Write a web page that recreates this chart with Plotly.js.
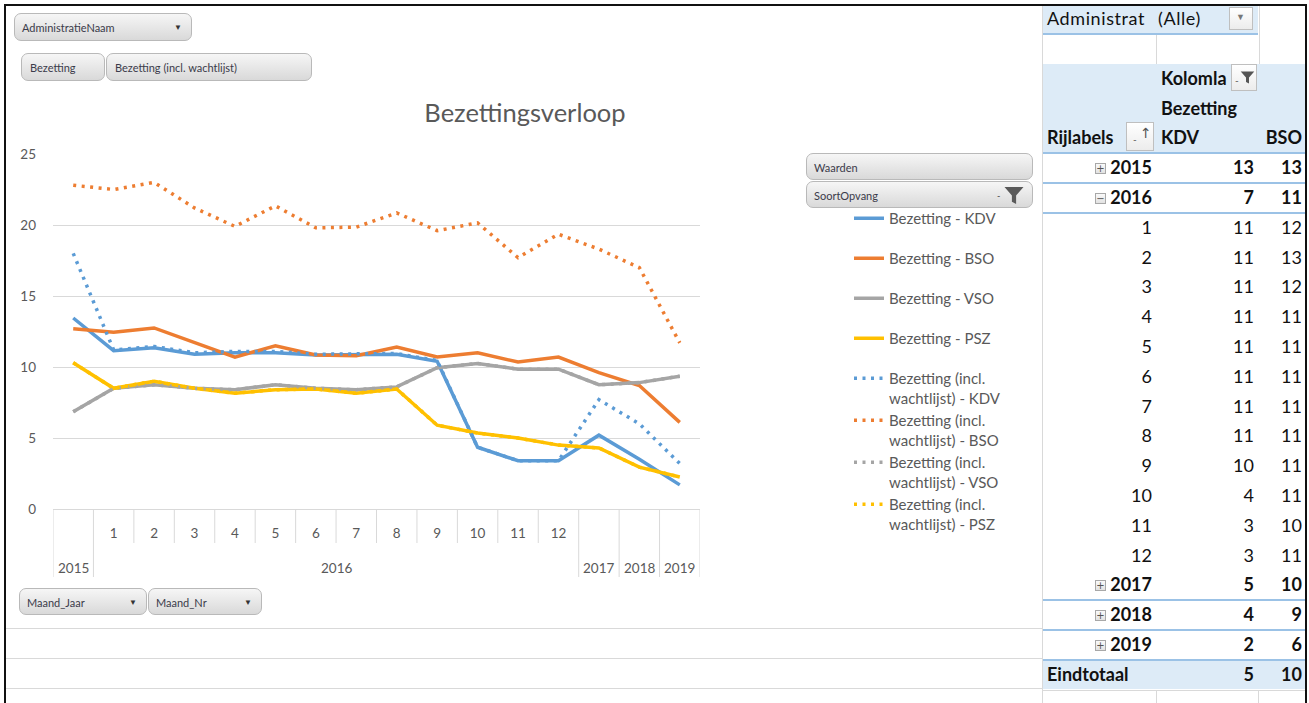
<!DOCTYPE html>
<html>
<head>
<meta charset="utf-8">
<script src="https://cdn.plot.ly/plotly-3.0.1.min.js"></script>
<style>
  body { margin:0; background:#fff; }
  #root { position:relative; width:1309px; height:703px; background:#fff; overflow:hidden; font-family: Lato, "Open Sans", sans-serif; }
  #chart { position:absolute; left:0; top:0; width:1040px; height:625px; }
  .abs { position:absolute; }
  .btn { position:absolute; box-sizing:border-box; border:1px solid #b9b9b9; border-radius:7px;
         background:linear-gradient(#f6f6f6,#d9d9d9); font-family:Lato, sans-serif; font-size:11px;
         color:#3b3b4a; white-space:nowrap; overflow:hidden; }
  .btn span.t { position:absolute; top:50%; transform:translateY(-50%); }
  .btn span.a { position:absolute; top:50%; transform:translateY(-50%); font-size:8px; color:#333; }
  .cell { position:absolute; font-family:Lato, sans-serif; font-size:18px; color:#111; white-space:nowrap; line-height:29.8px; }
  .b { font-weight:bold; }
  .hl { position:absolute; height:2px; background:#9BC2E6; }
  .gl { position:absolute; background:#d9d9d9; }
  .pm { position:absolute; width:9px; height:9px; border:1px solid #a8a8a8; background:linear-gradient(#fafafa,#e2e2e2);
        font-size:10px; line-height:9px; text-align:center; color:#555; font-family:"DejaVu Sans",sans-serif; }
  .tb { position:absolute; box-sizing:border-box; border:1px solid #bfbfbf; background:linear-gradient(#ffffff,#ececec); }
</style>
</head>
<body>
<div id="root">
  <div id="chart"></div>
</div>
<script>
// ---------------- chart data ----------------
const yearLabels  = ['2015','2016','2016','2016','2016','2016','2016','2016','2016','2016','2016','2016','2016','2017','2018','2019'];
const monthLabels = ['','1','2','3','4','5','6','7','8','9','10','11','12','','',''];

const bezKDV = [13.45, 11.15, 11.35, 10.9, 11.0, 11.0, 10.85, 10.85, 10.9, 10.4, 4.35, 3.4, 3.4, 5.2, 3.5, 1.7];
const bezBSO = [12.7, 12.45, 12.75, 11.7, 10.7, 11.5, 10.85, 10.8, 11.4, 10.7, 11.0, 10.35, 10.7, 9.6, 8.7, 6.1];
const bezVSO = [6.85, 8.5, 8.75, 8.5, 8.4, 8.75, 8.5, 8.4, 8.6, 9.95, 10.25, 9.85, 9.85, 8.75, 8.9, 9.35];
const bezPSZ = [10.3, 8.5, 9.0, 8.5, 8.15, 8.4, 8.45, 8.15, 8.45, 5.9, 5.35, 5.0, 4.5, 4.3, 2.95, 2.25];

const wachtKDV = [18.0, 11.2, 11.45, 11.0, 11.1, 11.1, 10.9, 10.9, 10.95, 10.45, 4.35, 3.4, 3.4, 7.7, 6.0, 3.2];
const wachtBSO = [22.8, 22.5, 23.0, 21.2, 19.9, 21.35, 19.8, 19.85, 20.85, 19.6, 20.15, 17.7, 19.35, 18.3, 17.0, 11.7];
const wachtVSO = [6.85, 8.5, 8.75, 8.5, 8.4, 8.75, 8.5, 8.4, 8.6, 9.95, 10.25, 9.85, 9.85, 8.75, 8.9, 9.35];
const wachtPSZ = [10.3, 8.5, 9.0, 8.5, 8.15, 8.4, 8.45, 8.15, 8.45, 5.9, 5.35, 5.0, 4.5, 4.3, 2.95, 2.25];

const soortOpvang = ['KDV','BSO','VSO','PSZ'];
const yTicks = [0, 5, 10, 15, 20, 25];

// ---------------- pivot table data ----------------
const tableRowLabels = ['2015','2016','1','2','3','4','5','6','7','8','9','10','11','12','2017','2018','2019','Eindtotaal'];
const tableRowKind   = ['plus','minus','m','m','m','m','m','m','m','m','m','m','m','m','plus','plus','plus','total'];
const tableKDV = [13, 7, 11, 11, 11, 11, 11, 11, 11, 11, 10, 4, 3, 3, 5, 4, 2, 5];
const tableBSO = [13, 11, 12, 13, 12, 11, 11, 11, 11, 11, 11, 11, 10, 11, 10, 9, 6, 10];

// ---------------- styles ----------------
const seriesColors = ['#5B9BD5', '#ED7D31', '#A5A5A5', '#FFC000'];
const txt = '#595959';
const font = 'Lato, "Open Sans", sans-serif';

const cats = yearLabels.map((y, i) => y + '|' + monthLabels[i]);
const bez = [bezKDV, bezBSO, bezVSO, bezPSZ];
const wacht = [wachtKDV, wachtBSO, wachtVSO, wachtPSZ];

const traces = [];
soortOpvang.forEach((s, k) => {
  traces.push({
    type: 'scatter', mode: 'lines', x: cats, y: bez[k],
    name: 'Bezetting - ' + s, legend: 'legend', legendgroup: 'b' + k,
    line: { color: seriesColors[k], width: 3.5 }, hoverinfo: 'skip'
  });
});
soortOpvang.forEach((s, k) => {
  traces.push({
    type: 'scatter', mode: 'lines', x: cats, y: wacht[k],
    name: 'Bezetting (incl.<br>wachtlijst) - ' + s, legend: 'legend2', legendgroup: 'w' + k,
    line: { color: seriesColors[k], width: 3.5, dash: '3px,5.5px' }, hoverinfo: 'skip'
  });
});

// dividers & group labels
const PH = 355; // plot height in px (for paper conversions)
const shapes = [];
for (let i = 0; i <= cats.length; i++) {
  const isGroupEdge = (i === 0 || i === cats.length || yearLabels[i] !== yearLabels[i - 1]);
  shapes.push({
    type: 'line', xref: 'x', yref: 'paper', x0: i - 0.5, x1: i - 0.5,
    y0: 0, y1: isGroupEdge ? -68 / PH : -34 / PH,
    line: { color: '#d9d9d9', width: 1 }
  });
}
const annotations = [];
let start = 0;
for (let i = 1; i <= yearLabels.length; i++) {
  if (i === yearLabels.length || yearLabels[i] !== yearLabels[start]) {
    annotations.push({
      xref: 'x', yref: 'paper', x: (start + i - 1) / 2, y: -59 / PH,
      text: yearLabels[start], showarrow: false, xanchor: 'center', yanchor: 'middle',
      font: { family: font, size: 13.5, color: txt }
    });
    start = i;
  }
}

const PL = 53, PW = 647;
const legFont = { family: font, size: 15, color: txt };
const layout = {
  width: 1040, height: 625,
  margin: { l: 53, r: 340, t: 154, b: 116, pad: 0 },
  paper_bgcolor: 'rgba(0,0,0,0)', plot_bgcolor: 'rgba(0,0,0,0)',
  font: { family: font, color: txt, size: 13.5 },
  title: {
    text: 'Bezettingsverloop', font: { family: font, size: 25.5, color: txt },
    xref: 'paper', x: (525 - PL) / PW, xanchor: 'center',
    yref: 'container', y: 1 - 113 / 625, yanchor: 'middle'
  },
  xaxis: {
    type: 'category', range: [-0.5, cats.length - 0.5], autorange: false,
    tickvals: cats, ticktext: monthLabels, ticks: '', showgrid: false,
    showline: true, linecolor: '#d9d9d9', linewidth: 1, zeroline: false,
    tickfont: { family: font, size: 13.5, color: txt }, ticklabelstandoff: 12, fixedrange: true
  },
  yaxis: {
    range: [0, 25], autorange: false, tickvals: yTicks, ticks: '',
    showgrid: true, gridcolor: '#d9d9d9', gridwidth: 1, zeroline: false, showline: false,
    tickfont: { family: font, size: 13.5, color: txt }, ticklabelstandoff: 16, fixedrange: true
  },
  showlegend: true,
  legend: {
    x: (849 - PL) / PW, xanchor: 'left', y: (509 - 202) / PH, yanchor: 'top',
    bgcolor: 'rgba(0,0,0,0)', font: legFont,
    traceorder: 'grouped', tracegroupgap: 17.5, itemclick: false, itemdoubleclick: false
  },
  legend2: {
    x: (849 - PL) / PW, xanchor: 'left', y: (509 - 362) / PH, yanchor: 'top',
    bgcolor: 'rgba(0,0,0,0)', font: legFont,
    traceorder: 'grouped', tracegroupgap: 0, valign: 'top', itemclick: false, itemdoubleclick: false
  },
  shapes: shapes,
  annotations: annotations
};

Plotly.newPlot('chart', traces, layout, { displayModeBar: false, staticPlot: true });

// ---------------- sheet decorations (HTML) ----------------
const root = document.getElementById('root');
function el(cls, css, html) {
  const d = document.createElement('div');
  d.className = cls;
  d.style.cssText = css;
  if (html !== undefined) d.innerHTML = html;
  root.appendChild(d);
  return d;
}
function btn(text, x, y, w, h, arrow, tx) {
  let inner = '<span class="t" style="left:' + (tx || 7) + 'px">' + text + '</span>';
  if (arrow) inner += '<span class="a" style="right:9px">&#9660;</span>';
  el('btn', 'left:' + x + 'px;top:' + y + 'px;width:' + w + 'px;height:' + h + 'px', inner);
}
const funnelSvg = (w, h, col) => '<svg width="' + w + '" height="' + h + '" viewBox="0 0 20 18"><path d="M1,1 H19 L12,9 V17 L8,15 V9 Z" fill="' + col + '"/></svg>';

// worksheet gridlines below the chart
[628, 658, 688].forEach(y => el('gl', 'left:6px;top:' + y + 'px;width:1036px;height:1px'));

// pivot chart field buttons
btn('AdministratieNaam', 14, 13, 178, 28, true);
btn('Bezetting', 21, 53, 84, 28, false, 8);
btn('Bezetting (incl. wachtlijst)', 106, 53, 206, 28, false, 8);
btn('Maand_Jaar', 19, 588, 128, 27, true);
btn('Maand_Nr', 148, 588, 114, 27, true);
btn('Waarden', 806, 153, 227, 27, false);
const so = el('btn', 'left:806px;top:181px;width:227px;height:27px', '<span class="t" style="left:7px">SoortOpvang</span>');
so.innerHTML += '<span style="position:absolute;left:190px;top:8px;font-size:9px;color:#444">-</span><span style="position:absolute;left:196px;top:4px">' + funnelSvg(22, 19, '#5a5a5a') + '</span>';

// ---------------- pivot table ----------------
const RH = 29.8, R0 = 4.1;
const rowTop = i => R0 + RH * i;
const colA = 1043, colB = 1156, colC = 1258, colEnd = 1305;

// backgrounds
el('abs', 'left:' + colA + 'px;top:' + rowTop(0) + 'px;width:' + (colC - colA) + 'px;height:' + RH + 'px;background:#DDEBF7');
el('abs', 'left:' + colA + 'px;top:' + rowTop(2) + 'px;width:' + (colEnd - colA) + 'px;height:' + (RH * 3) + 'px;background:#DDEBF7');
el('abs', 'left:' + colA + 'px;top:' + rowTop(22) + 'px;width:' + (colEnd - colA) + 'px;height:' + RH + 'px;background:#DDEBF7');

// gray worksheet gridlines in the table area
el('gl', 'left:1042px;top:6px;width:1px;height:697px');
el('gl', 'left:' + colB + 'px;top:' + rowTop(1) + 'px;width:1px;height:' + RH + 'px');
el('gl', 'left:' + (colC + 1) + 'px;top:' + rowTop(0) + 'px;width:1px;height:' + (RH * 2) + 'px');
el('gl', 'left:' + colB + 'px;top:' + rowTop(23) + 'px;width:1px;height:20px');
el('gl', 'left:' + colC + 'px;top:' + rowTop(23) + 'px;width:1px;height:20px');
el('gl', 'left:' + colA + 'px;top:' + (rowTop(23)) + 'px;width:' + (colEnd - colA) + 'px;height:1px');

// blue separators
el('hl', 'left:' + colA + 'px;top:' + (rowTop(1) - 1) + 'px;width:' + (colC - colA) + 'px');
[5, 6, 7, 20, 21, 22].forEach(i => el('hl', 'left:' + colA + 'px;top:' + (rowTop(i) - 1) + 'px;width:' + (colEnd - colA) + 'px'));

// row 0: report filter (cell text is cut by the next cell, as in the sheet)
el('cell', 'left:1047px;top:' + rowTop(0) + 'px;letter-spacing:0.6px', 'Administrat');
el('cell', 'left:1158px;top:' + rowTop(0) + 'px;letter-spacing:0.6px', '(Alle)');
el('tb', 'left:1229px;top:7px;width:24px;height:23px', '<span style="position:absolute;left:6px;top:3px;font-size:9px;color:#777">&#9660;</span>');

// header rows
el('cell b', 'left:1161px;top:' + rowTop(2) + 'px', 'Kolomla');
el('tb', 'left:1231px;top:64px;width:26px;height:27px', '<span style="position:absolute;left:3px;top:9px;font-size:10px;color:#555">-</span><span style="position:absolute;left:8px;top:4px">' + funnelSvg(15, 17, '#555') + '</span>');
el('cell b', 'left:1161px;top:' + rowTop(3) + 'px', 'Bezetting');
el('cell b', 'left:1047px;top:' + rowTop(4) + 'px', 'Rijlabels');
el('tb', 'left:1126px;top:122px;width:28px;height:29px', '<span style="position:absolute;left:6px;top:10px;font-size:10px;color:#555">-</span><span style="position:absolute;left:13px;top:2px;font-size:14px;color:#555;font-family:DejaVu Sans">&#8593;</span>');
el('cell b', 'left:1161px;top:' + rowTop(4) + 'px', 'KDV');
el('cell b', 'right:' + (1309 - 1302) + 'px;top:' + rowTop(4) + 'px', 'BSO');

// data rows
tableRowLabels.forEach((lab, j) => {
  const i = j + 5;
  const top = rowTop(i);
  const bold = tableRowKind[j] !== 'm';
  const cls = 'cell' + (bold ? ' b' : '');
  if (tableRowKind[j] === 'total') {
    el(cls, 'left:1047px;top:' + top + 'px', lab);
  } else {
    el(cls, 'right:' + (1309 - 1152) + 'px;top:' + top + 'px', lab);
    if (tableRowKind[j] === 'plus' || tableRowKind[j] === 'minus') {
      el('pm', 'left:1095px;top:' + (top + 10) + 'px', tableRowKind[j] === 'plus' ? '+' : '&#8722;');
    }
  }
  el(cls, 'right:' + (1309 - 1254) + 'px;top:' + top + 'px', String(tableKDV[j]));
  el(cls, 'right:' + (1309 - 1302) + 'px;top:' + top + 'px', String(tableBSO[j]));
});

// outer frame
el('abs', 'left:4px;top:4px;width:1303px;height:2px;background:#111');
el('abs', 'left:4px;top:4px;width:2px;height:699px;background:#111');
el('abs', 'left:1305px;top:4px;width:2px;height:699px;background:#111');
</script>
</body>
</html>
